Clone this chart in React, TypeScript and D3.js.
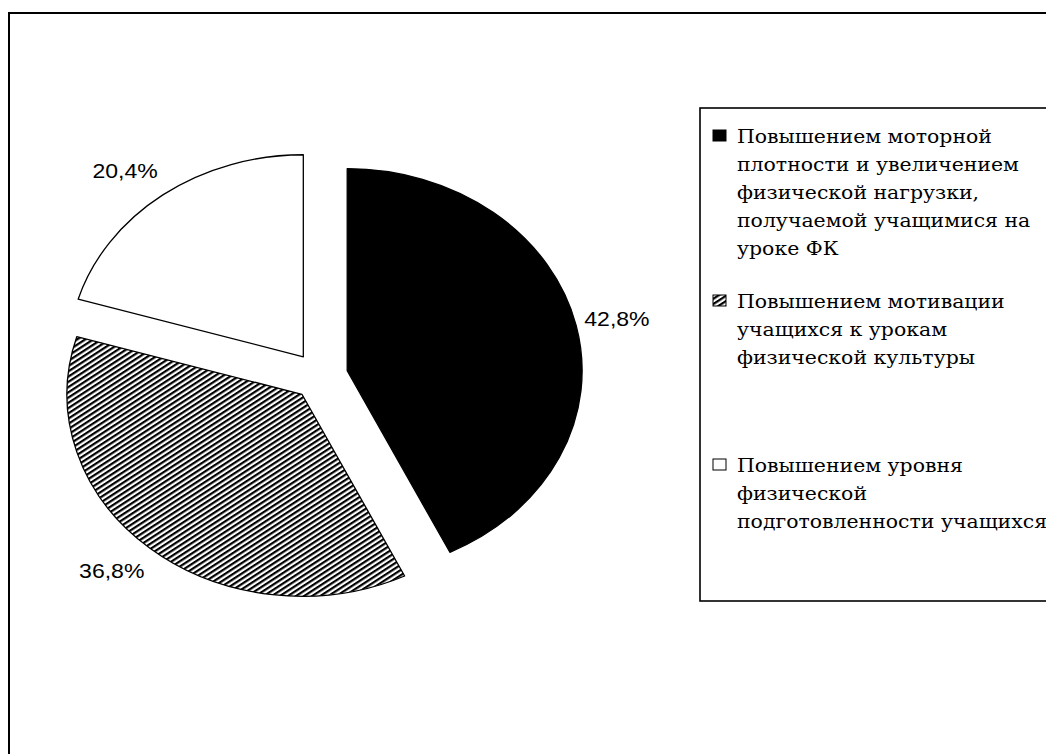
import React from "react";
import * as d3 from "d3";

const categories = [
  "Повышением моторной плотности и увеличением физической нагрузки, получаемой учащимися на уроке ФК",
  "Повышением мотивации учащихся к урокам физической культуры",
  "Повышением уровня физической подготовленности учащихся",
];
const values = [42.8, 36.8, 20.4];
const valueLabels = ["42,8%", "36,8%", "20,4%"];
const legendLines = [
  ["Повышением моторной", "плотности и увеличением", "физической нагрузки,", "получаемой учащимися на", "уроке ФК"],
  ["Повышением мотивации", "учащихся к урокам", "физической культуры"],
  ["Повышением уровня", "физической", "подготовленности учащихся"],
];
const fills = ["#000000", "url(#hatch)", "#ffffff"];

const W = 1046;
const H = 754;
const SX = 1.163; // horizontal stretch of the original picture
const RY = 202;
const RX = RY * SX;
const CX = 320;
const CY = 376;
const EXPLODE = 24;

export default function App() {
  const pie = d3.pie<number>().sort(null).startAngle(0).endAngle(2 * Math.PI);
  const arcs = pie(values);

  const pt = (ax: number, ay: number, a: number, rx: number, ry: number) => [ax + rx * Math.sin(a), ay - ry * Math.cos(a)];

  const slices = arcs.map((a, i) => {
    const mid = (a.startAngle + a.endAngle) / 2;
    const ax = CX + EXPLODE * SX * Math.sin(mid);
    const ay = CY - EXPLODE * Math.cos(mid);
    const [x0, y0] = pt(ax, ay, a.startAngle, RX, RY);
    const [x1, y1] = pt(ax, ay, a.endAngle, RX, RY);
    const large = a.endAngle - a.startAngle > Math.PI ? 1 : 0;
    const d = `M${ax},${ay}L${x0},${y0}A${RX},${RY} 0 ${large} 1 ${x1},${y1}Z`;
    const [ex, ey] = pt(ax, ay, mid, RX, RY);
    const s = Math.sin(mid);
    const c = Math.cos(mid);
    const lx = ex + s * 8 + Math.sign(s) * 33;
    const ly = ey - c * 30;
    return { d, lx, ly, i };
  });

  const legendX = 713;
  const textX = 737;
  const lineH = 27.9;
  const groupStarts = [143, 308, 472];

  return (
    <svg width={W} height={H} style={{ position: "absolute", left: 0, top: 0, background: "#fff" }}>
      <defs>
        <pattern id="hatch" patternUnits="userSpaceOnUse" width={4.4} height={4.4} patternTransform="rotate(-33)">
          <rect width={4.4} height={4.4} fill="#fff" />
          <rect width={4.4} height={2.2} fill="#000" />
        </pattern>
      </defs>
      <rect x={9} y={13} width={1200} height={900} fill="#fff" stroke="#000" strokeWidth={2} />
      {slices.map((s) => (
        <path key={s.i} d={s.d} fill={fills[s.i]} stroke="#000" strokeWidth={1.3} strokeLinejoin="round" />
      ))}
      {slices.map((s) => (
        <text
          key={"l" + s.i}
          transform={`translate(${s.lx},${s.ly}) scale(${SX - 0.01},1)`}
          textAnchor="middle"
          dominantBaseline="central"
          fontFamily="'Liberation Sans', Arial, sans-serif"
          fontSize={20}
          fill="#000"
        >
          {valueLabels[s.i]}
        </text>
      ))}
      <rect x={700} y={108} width={500} height={493} fill="none" stroke="#000" strokeWidth={1.6} />
      {legendLines.map((lines, gi) => (
        <g key={"g" + gi}>
          <rect
            x={legendX}
            y={groupStarts[gi] - 13}
            width={13}
            height={11}
            fill={fills[gi]}
            stroke="#000"
            strokeWidth={1}
          >
            <title>{categories[gi]}</title>
          </rect>
          {lines.map((ln, li) => (
            <text
              key={li}
              transform={`translate(${textX},${groupStarts[gi] + li * lineH}) scale(1.075,1)`}
              fontFamily="'DejaVu Serif', serif"
              fontSize={19}
              fill="#000"
            >
              {ln}
            </text>
          ))}
        </g>
      ))}
    </svg>
  );
}
